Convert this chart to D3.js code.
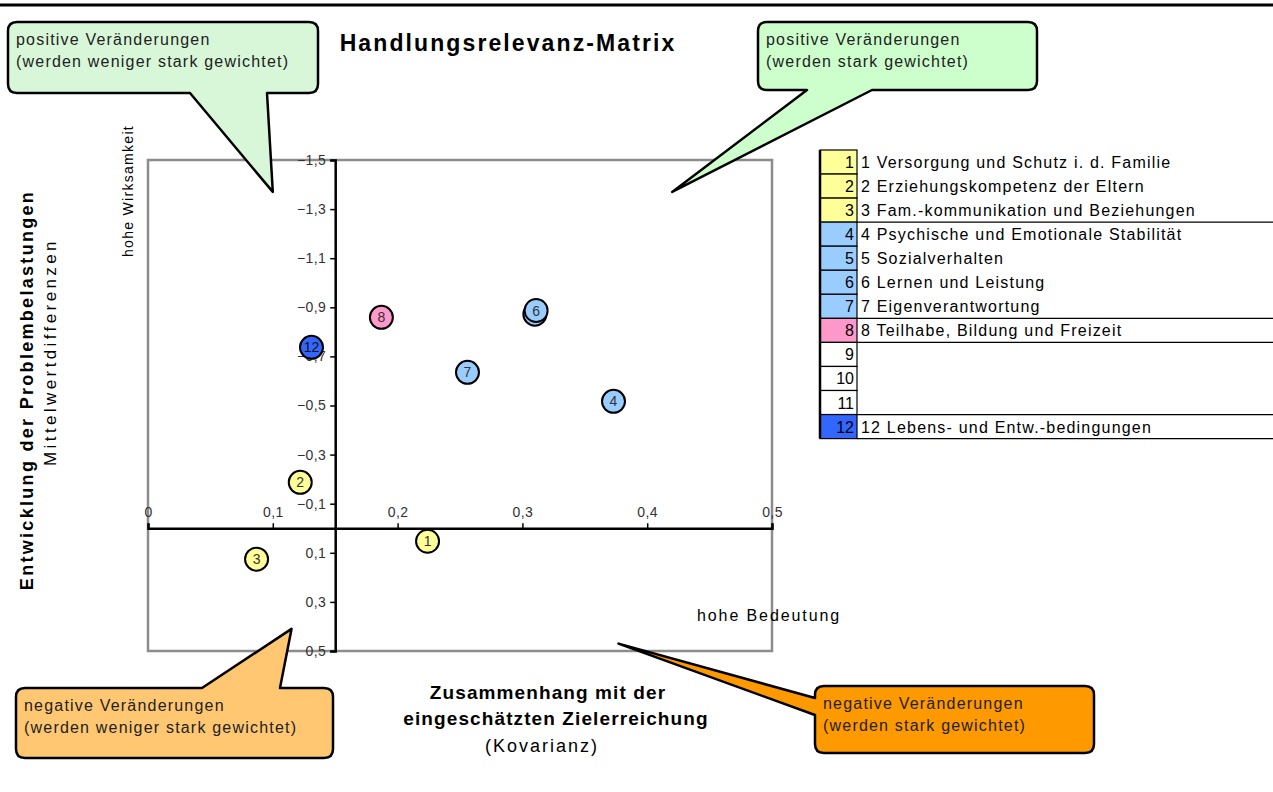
<!DOCTYPE html>
<html>
<head>
<meta charset="utf-8">
<script src="https://cdn.jsdelivr.net/npm/d3@7"></script>
<style>
  body { margin: 0; background: #fff; }
  svg { display: block; font-family: "Liberation Sans", Arial, sans-serif; }
</style>
</head>
<body>
<svg id="chart"></svg>
<script>
const ids = [1, 2, 3, 4, 5, 6, 7, 8, 12];
const kovarianz = [0.224, 0.122, 0.087, 0.373, 0.310, 0.311, 0.256, 0.187, 0.131];
const mittelwertDiff = [0.053, -0.187, 0.126, -0.517, -0.872, -0.887, -0.635, -0.859, -0.737];

const legendNums = [1, 2, 3, 4, 5, 6, 7, 8, 9, 10, 11, 12];
const legendLabels = [
  '1 Versorgung und Schutz i. d. Familie',
  '2 Erziehungskompetenz der Eltern',
  '3 Fam.-kommunikation und Beziehungen',
  '4 Psychische und Emotionale Stabilität',
  '5 Sozialverhalten',
  '6 Lernen und Leistung',
  '7 Eigenverantwortung',
  '8 Teilhabe, Bildung und Freizeit',
  '', '', '',
  '12 Lebens- und Entw.-bedingungen'
];
const groupColor = {
  1: '#ffff99', 2: '#ffff99', 3: '#ffff99',
  4: '#99ccff', 5: '#99ccff', 6: '#99ccff', 7: '#99ccff',
  8: '#ff99cc', 9: '#fff', 10: '#fff', 11: '#fff', 12: '#3366ff'
};

const xTicks = [0, 0.1, 0.2, 0.3, 0.4, 0.5];
const yTicks = [-1.5, -1.3, -1.1, -0.9, -0.7, -0.5, -0.3, -0.1, 0.1, 0.3, 0.5];

const width = 1273, height = 792;
const plot = { left: 148, right: 772, top: 160, bottom: 651 };

const svg = d3.select('#chart').attr('width', width).attr('height', height);

// top rule
svg.append('line')
  .attr('x1', 0).attr('x2', width).attr('y1', 5).attr('y2', 5)
  .attr('stroke', '#000').attr('stroke-width', 3);

svg.append('text')
  .attr('x', 508).attr('y', 51)
  .attr('text-anchor', 'middle')
  .style('font-size', '23px').style('font-weight', 'bold')
  .style('letter-spacing', '2.1px')
  .text('Handlungsrelevanz-Matrix');

const x = d3.scaleLinear().domain([0, 0.5]).range([plot.left, plot.right]);
const y = d3.scaleLinear().domain([-1.5, 0.5]).range([plot.top, plot.bottom]);

// plot frame
svg.append('rect')
  .attr('x', plot.left).attr('y', plot.top)
  .attr('width', plot.right - plot.left).attr('height', plot.bottom - plot.top)
  .attr('fill', 'none').attr('stroke', '#8c8c8c').attr('stroke-width', 2.5);

// x axis crosses at y = 0, y axis crosses at x = 0.15
const xAxis = svg.append('g')
  .attr('transform', `translate(0,${y(0)})`)
  .call(d3.axisTop(x).tickValues(xTicks).tickSize(5).tickPadding(6)
    .tickFormat(d => d3.format('.1~f')(d).replace('.', ',')));

const yAxis = svg.append('g')
  .attr('transform', `translate(${x(0.15)},0)`)
  .call(d3.axisLeft(y).tickValues(yTicks).tickSize(5).tickPadding(4)
    .tickFormat(d => d3.format('.1f')(d).replace('.', ',')));

[xAxis, yAxis].forEach(ax => {
  ax.select('.domain').attr('stroke', '#000').attr('stroke-width', 2.5);
  ax.selectAll('.tick line').attr('stroke', '#000').attr('stroke-width', 1.5);
  ax.selectAll('.tick text')
    .attr('fill', '#333')
    .style('font-size', '14px')
    .style('letter-spacing', '0.4px')
    .style('font-family', '"Liberation Sans", Arial, sans-serif');
});

// axis titles
svg.append('text')
  .attr('transform', 'translate(33,390) rotate(-90)')
  .attr('text-anchor', 'middle')
  .style('font-size', '18px').style('font-weight', 'bold')
  .style('letter-spacing', '2.3px')
  .text('Entwicklung der Problembelastungen');
svg.append('text')
  .attr('transform', 'translate(56,352) rotate(-90)')
  .attr('text-anchor', 'middle')
  .style('font-size', '17px')
  .style('letter-spacing', '3.4px')
  .text('Mittelwertdifferenzen');
svg.append('text')
  .attr('transform', 'translate(133,191) rotate(-90)')
  .attr('text-anchor', 'middle')
  .style('font-size', '14px')
  .style('letter-spacing', '1.3px')
  .text('hohe Wirksamkeit');

svg.append('text')
  .attr('x', 697).attr('y', 621)
  .style('font-size', '16px')
  .style('letter-spacing', '1.9px')
  .text('hohe Bedeutung');

const xt = svg.append('text')
  .attr('text-anchor', 'middle')
  .style('font-size', '19px').style('font-weight', 'bold')
  .style('letter-spacing', '1.1px');
xt.append('tspan').attr('x', 548).attr('y', 699).text('Zusammenhang mit der');
xt.append('tspan').attr('x', 556).attr('y', 725).text('eingeschätzten Zielerreichung');
svg.append('text')
  .attr('x', 542).attr('y', 752)
  .attr('text-anchor', 'middle')
  .style('font-size', '18px')
  .style('letter-spacing', '2px')
  .text('(Kovarianz)');

// points
const pts = ids.map((id, i) => ({ id, kov: kovarianz[i], mw: mittelwertDiff[i] }));
const nodes = svg.append('g').selectAll('g').data(pts).enter().append('g')
  .attr('transform', d => `translate(${x(d.kov)},${y(d.mw)})`);
nodes.append('circle')
  .attr('r', 11.5)
  .attr('fill', d => groupColor[d.id])
  .attr('stroke', '#000').attr('stroke-width', 2);
nodes.append('text')
  .attr('text-anchor', 'middle').attr('dy', '0.36em')
  .attr('fill', d => d.id === 12 ? '#111' : '#333')
  .style('font-size', '14px')
  .text(d => d.id);

// legend table
const lg = { x0: 820, x1: 857, top: 150, row: 24.05 };
const legend = svg.append('g');
legend.selectAll('rect').data(legendNums).enter().append('rect')
  .attr('x', lg.x0).attr('y', (d, i) => lg.top + i * lg.row)
  .attr('width', lg.x1 - lg.x0).attr('height', lg.row)
  .attr('fill', d => groupColor[d])
  .attr('stroke', '#000').attr('stroke-width', 1.2);
legend.selectAll('text.num').data(legendNums).enter().append('text')
  .attr('class', 'num')
  .attr('x', lg.x1 - 3).attr('y', (d, i) => lg.top + i * lg.row + 18)
  .attr('text-anchor', 'end')
  .style('font-size', '16px')
  .text(d => d);
legend.selectAll('text.lbl').data(legendLabels).enter().append('text')
  .attr('class', 'lbl')
  .attr('x', lg.x1 + 4).attr('y', (d, i) => lg.top + i * lg.row + 18)
  .style('font-size', '16px')
  .style('letter-spacing', '1.2px')
  .text(d => d);
// group separators run across the table
const sepRows = [3, 7, 8, 11, 12];
legend.selectAll('line.sep').data(sepRows).enter().append('line')
  .attr('class', 'sep')
  .attr('x1', lg.x1).attr('x2', width)
  .attr('y1', d => lg.top + d * lg.row).attr('y2', d => lg.top + d * lg.row)
  .attr('stroke', '#000').attr('stroke-width', 1.2);
legend.append('line')
  .attr('x1', lg.x0).attr('x2', lg.x0)
  .attr('y1', lg.top).attr('y2', lg.top + 12 * lg.row)
  .attr('stroke', '#000').attr('stroke-width', 2.5);

// callouts
function calloutPath(x0, y0, x1, y1, side, a, b, tx, ty) {
  const r = 9;
  let p = `M${x0 + r},${y0}`;
  if (side === 'top') p += `H${a}L${tx},${ty}L${b},${y0}`;
  p += `H${x1 - r}Q${x1},${y0} ${x1},${y0 + r}`;
  p += `V${y1 - r}Q${x1},${y1} ${x1 - r},${y1}`;
  if (side === 'bottom') p += `H${b}L${tx},${ty}L${a},${y1}`;
  p += `H${x0 + r}Q${x0},${y1} ${x0},${y1 - r}`;
  if (side === 'left') p += `V${b}L${tx},${ty}L${x0},${a}`;
  p += `V${y0 + r}Q${x0},${y0} ${x0 + r},${y0}Z`;
  return p;
}

const callouts = [
  { box: [8, 22, 318, 93], side: 'bottom', a: 190, b: 267, tip: [0.1, -1.37], fill: '#d8f7d8',
    lines: ['positive Veränderungen', '(werden weniger stark gewichtet)'] },
  { box: [758, 22, 1037, 90], side: 'bottom', a: 807, b: 872, tip: [0.42, -1.37], fill: '#ccffcc',
    lines: ['positive Veränderungen', '(werden stark gewichtet)'] },
  { box: [16, 688, 333, 758], side: 'top', a: 202, b: 280, tip: [0.115, 0.41], fill: '#ffc772',
    lines: ['negative Veränderungen', '(werden weniger stark gewichtet)'] },
  { box: [815, 686, 1094, 753], side: 'left', a: 698, b: 715, tip: [0.377, 0.47], fill: '#ff9900',
    lines: ['negative Veränderungen', '(werden stark gewichtet)'] }
];

const co = svg.append('g').selectAll('g').data(callouts).enter().append('g');
co.append('path')
  .attr('d', d => calloutPath(d.box[0], d.box[1], d.box[2], d.box[3], d.side, d.a, d.b,
    x(d.tip[0]), y(d.tip[1])))
  .attr('fill', d => d.fill)
  .attr('stroke', '#000').attr('stroke-width', 2.5).attr('stroke-linejoin', 'round');
co.each(function (d) {
  const t = d3.select(this).append('text')
    .attr('fill', '#222').style('font-size', '16px').style('letter-spacing', '1.2px');
  d.lines.forEach((l, i) => {
    t.append('tspan').attr('x', d.box[0] + 8).attr('y', d.box[1] + 23 + i * 22).text(l);
  });
});
</script>
</body>
</html>
